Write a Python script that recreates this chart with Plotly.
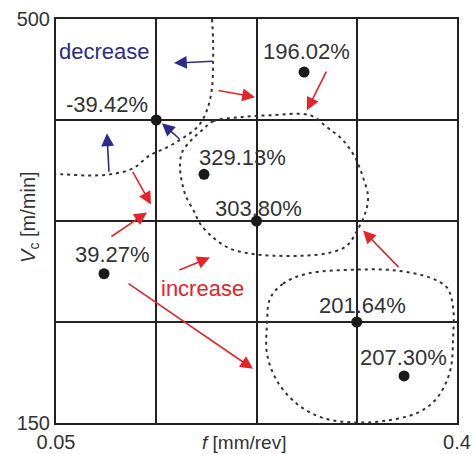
import plotly.graph_objects as go

# ---- data ----
pt_f = [0.1375, 0.2665, 0.1792, 0.225, 0.0919, 0.3125, 0.3538]
pt_vc = [412.5, 454.0, 365.4, 325.0, 279.4, 237.5, 190.8]
pt_labels = ["-39.42%", "196.02%", "329.13%", "303.80%", "39.27%", "201.64%", "207.30%"]
lbl_f = [0.1321, 0.2683, 0.1731, 0.1871, 0.0648, 0.3176, 0.3136]
lbl_vc = [426.2, 471.8, 379.7, 335.9, 295.9, 252.0, 206.9]
lbl_anchor = ["right", "center", "left", "left", "left", "center", "left"]

# boundary A (decrease region, open curve)
a_f = [0.1862, 0.1871, 0.1871, 0.1862, 0.1818, 0.1740, 0.1617, 0.1469, 0.1318, 0.1172, 0.0971, 0.0771, 0.0561, 0.0500]
a_vc = [500.0, 481.8, 464.4, 440.9, 421.0, 407.0, 397.5, 388.8, 381.9, 370.6, 365.4, 364.5, 365.4, 365.4]

# boundary B (central closed curve)
b_f = [0.1775, 0.1871, 0.2106, 0.2368, 0.2717, 0.2866, 0.3005, 0.3110, 0.3180, 0.3224, 0.3198, 0.3128,
       0.3040, 0.2892, 0.2656, 0.2394, 0.2194, 0.2019, 0.1871, 0.1757, 0.1705, 0.1635, 0.1600, 0.1583,
       0.1600, 0.1679, 0.1775]
b_vc = [403.6, 411.4, 414.9, 416.6, 416.6, 406.2, 394.9, 380.1, 362.8, 345.4, 331.5, 316.7,
        303.7, 297.6, 295.0, 295.0, 296.8, 301.1, 310.7, 322.8, 333.3, 346.2, 358.4, 370.6,
        384.5, 394.9, 403.6]

# boundary C (lower-right closed curve)
c_f = [0.2368, 0.2482, 0.2691, 0.3128, 0.3477, 0.3765, 0.3913, 0.3966, 0.3966, 0.3940, 0.3826, 0.3652,
       0.3355, 0.3093, 0.2831, 0.2604, 0.2429, 0.2342, 0.2342, 0.2368]
c_vc = [257.7, 270.7, 279.4, 282.9, 282.0, 275.9, 267.2, 249.9, 223.8, 195.2, 171.7, 158.7,
        151.7, 150.5, 154.3, 166.5, 186.5, 209.9, 236.0, 257.7]

# arrows: tail (f, vc) -> head (f, vc)
red_tail_f = [0.1906, 0.2866, 0.1163, 0.0971, 0.1565, 0.1120, 0.3503]
red_tail_vc = [438.3, 455.7, 368.9, 310.7, 282.0, 271.6, 283.7]
red_head_f = [0.2237, 0.2691, 0.1329, 0.1294, 0.1844, 0.2220, 0.3180]
red_head_vc = [432.3, 421.0, 339.3, 332.4, 293.3, 196.9, 316.7]

blue_tail_f = [0.1879, 0.1591, 0.0963]
blue_tail_vc = [463.5, 394.9, 366.3]
blue_head_f = [0.1530, 0.1425, 0.0945]
blue_head_vc = [461.8, 409.7, 401.0]

f_ticks = [0.05, 0.4]
f_ticktext = ["0.05", "0.4"]
vc_ticks = [150, 500]
vc_ticktext = ["150", "500"]
grid_f = [0.1375, 0.225, 0.3125]
grid_vc = [237.5, 325, 412.5]

RED = "#e3242b"
BLUE = "#2d2a8e"
DARK = "#333333"
LINE = "#222222"
FONT = "Arial, Liberation Sans, sans-serif"

fig = go.Figure()
for xs, ys in [(a_f, a_vc), (b_f, b_vc), (c_f, c_vc)]:
    fig.add_trace(go.Scatter(x=xs, y=ys, mode="lines",
                             line=dict(color=DARK, width=2, dash="3px,4px", shape="spline", smoothing=1.0),
                             hoverinfo="skip", showlegend=False))

fig.add_trace(go.Scatter(x=pt_f, y=pt_vc, mode="markers",
                         marker=dict(color="#1a1a1a", size=11), showlegend=False))

anns = []
for x, y, t, a in zip(lbl_f, lbl_vc, pt_labels, lbl_anchor):
    anns.append(dict(x=x, y=y, text=t, xref="x", yref="y", xanchor=a, yanchor="middle",
                     showarrow=False, font=dict(family=FONT, size=22, color=DARK)))

for tx, ty, hx, hy in zip(red_tail_f, red_tail_vc, red_head_f, red_head_vc):
    anns.append(dict(x=hx, y=hy, ax=tx, ay=ty, xref="x", yref="y", axref="x", ayref="y",
                     text="", showarrow=True, arrowhead=2, arrowsize=1.6, arrowwidth=1.6,
                     arrowcolor=RED, standoff=0, startstandoff=0))
for tx, ty, hx, hy in zip(blue_tail_f, blue_tail_vc, blue_head_f, blue_head_vc):
    anns.append(dict(x=hx, y=hy, ax=tx, ay=ty, xref="x", yref="y", axref="x", ayref="y",
                     text="", showarrow=True, arrowhead=2, arrowsize=1.6, arrowwidth=1.6,
                     arrowcolor=BLUE, standoff=0, startstandoff=0))

anns.append(dict(x=0.0509, y=471.8, text="decrease", xref="x", yref="y", xanchor="left",
                 yanchor="middle", showarrow=False, font=dict(family=FONT, size=22, color=BLUE)))
anns.append(dict(x=0.1399, y=266.4, text="increase", xref="x", yref="y", xanchor="left",
                 yanchor="middle", showarrow=False, font=dict(family=FONT, size=22, color=RED)))

anns.append(dict(x=0.47, y=-0.048, xref="paper", yref="paper", text="<i>f</i> [mm/rev]",
                 xanchor="center", yanchor="middle", showarrow=False,
                 font=dict(family=FONT, size=19, color=DARK)))
anns.append(dict(x=-0.065, y=0.51, xref="paper", yref="paper", text="<i>V</i><sub>c</sub> [m/min]",
                 xanchor="center", yanchor="middle", textangle=-90, showarrow=False,
                 font=dict(family=FONT, size=20, color=DARK)))

fig.update_layout(
    width=474, height=454,
    margin=dict(l=56, r=17, t=19, b=31),
    paper_bgcolor="white", plot_bgcolor="white",
    showlegend=False,
    annotations=anns,
    font=dict(family=FONT, color=DARK),
)
common = dict(showgrid=False, showline=True, linecolor=LINE, linewidth=2, mirror=True,
              ticks="", zeroline=False, automargin=False,
              tickfont=dict(size=20, color=DARK, family=FONT))
fig.update_xaxes(range=[0.05, 0.4], tickmode="array", tickvals=f_ticks, ticktext=f_ticktext,
                 minor=dict(tickmode="array", tickvals=grid_f, showgrid=True, gridcolor=LINE,
                            gridwidth=2, ticks=""),
                 **common)
fig.update_yaxes(range=[150, 500], tickmode="array", tickvals=vc_ticks, ticktext=vc_ticktext,
                 minor=dict(tickmode="array", tickvals=grid_vc, showgrid=True, gridcolor=LINE,
                            gridwidth=2, ticks=""),
                 **common)

fig.write_html("out.html", config={"displayModeBar": False},
               post_script="document.body.style.margin='0px';document.body.style.overflow='hidden';")
